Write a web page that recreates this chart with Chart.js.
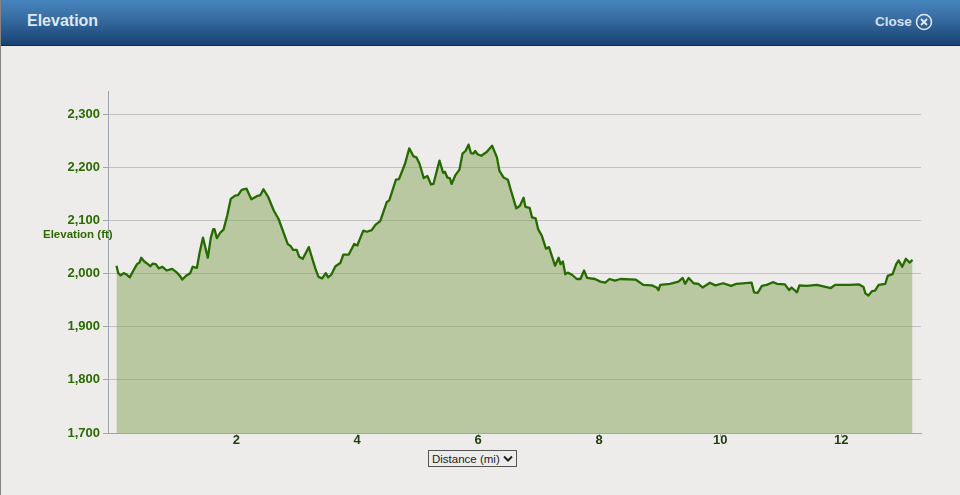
<!DOCTYPE html>
<html>
<head>
<meta charset="utf-8">
<title>Elevation</title>
<script src="https://cdn.jsdelivr.net/npm/chart.js"></script>
<style>
  html, body { margin: 0; padding: 0; width: 960px; height: 495px; overflow: hidden; background: #eeeceb; font-family: "Liberation Sans", Arial, sans-serif; }
  #edge { position: absolute; left: 0; top: 0; width: 1px; height: 495px; background: #858383; z-index: 3; }
  #head { position: absolute; left: 0; top: 0; width: 960px; height: 45px; background: linear-gradient(#4684bd, #3a70a6 35%, #174272); border-bottom: 1px solid #0d2b4a; }
  #head .title { position: absolute; left: 27px; top: 12px; font-size: 16px; font-weight: bold; color: #dfe8ef; }
  #head .close { position: absolute; left: 875px; top: 14px; font-size: 13.5px; font-weight: bold; color: #d5e0ea; }
  #head svg { position: absolute; left: 915px; top: 13px; }
  #wrap { position: absolute; left: 0; top: 0; width: 960px; height: 495px; }
  #yTitle { position: absolute; left: 43px; top: 228px; font-size: 11.5px; font-weight: bold; color: #2a6a00; white-space: nowrap; }
  #xSelect { position: absolute; left: 428px; top: 450px; width: 89px; height: 17px; font: 11.5px "Liberation Sans", Arial, sans-serif; color: #222; border: 1px solid #555; border-radius: 0; padding: 0 0 0 3px; appearance: none; -webkit-appearance: none;
    background: #eeeceb url("data:image/svg+xml,%3Csvg xmlns='http://www.w3.org/2000/svg' width='10' height='7'%3E%3Cpath d='M1 1.5 L5 5.5 L9 1.5' fill='none' stroke='%23222' stroke-width='2'/%3E%3C/svg%3E") no-repeat right 3px center; }
</style>
</head>
<body>
<div id="wrap"><canvas id="chartElev" width="960" height="495"></canvas></div>
<div id="edge"></div>
<div id="head">
  <div class="title">Elevation</div>
  <div class="close">Close</div>
  <svg width="18" height="18" viewBox="0 0 18 18" fill="none" stroke="#e4ecf2">
    <circle cx="9" cy="9" r="7.5" stroke-width="1.5"/>
    <path d="M6 6 L12 12 M12 6 L6 12" stroke-width="1.8"/>
  </svg>
</div>
<div id="yTitle">Elevation (ft)</div>
<select id="xSelect"><option>Distance (mi)</option></select>

<script>
// valores
const distance = [
  0.02,0.05,0.09,0.14,0.18,0.24,0.30,0.36,0.40,0.43,0.48,0.55,0.58,0.62,0.67,0.72,0.78,0.85,0.94,1.02,
  1.06,1.11,1.17,1.24,1.28,1.35,1.39,1.45,1.53,1.58,1.62,1.64,1.68,1.74,1.79,1.85,1.91,1.98,2.03,2.09,
  2.17,2.25,2.34,2.40,2.45,2.53,2.62,2.70,2.78,2.85,2.90,2.94,3.00,3.04,3.10,3.20,3.25,3.31,3.36,3.42,
  3.48,3.52,3.57,3.64,3.72,3.77,3.86,3.95,4.00,4.10,4.16,4.24,4.30,4.38,4.49,4.53,4.64,4.69,4.79,4.86,
  4.93,4.98,5.03,5.10,5.16,5.22,5.26,5.36,5.42,5.45,5.49,5.53,5.56,5.62,5.69,5.74,5.79,5.84,5.88,5.92,
  5.95,5.99,6.05,6.14,6.23,6.31,6.35,6.42,6.49,6.54,6.63,6.69,6.75,6.78,6.85,6.89,6.95,6.99,7.05,7.12,
  7.17,7.27,7.33,7.36,7.40,7.44,7.48,7.55,7.63,7.69,7.75,7.80,7.93,8.02,8.10,8.17,8.26,8.35,8.60,8.73,
  8.87,8.95,8.98,9.01,9.17,9.31,9.38,9.42,9.48,9.56,9.64,9.71,9.83,9.92,10.05,10.18,10.27,10.52,10.56,10.62,
  10.69,10.77,10.87,10.94,11.07,11.14,11.18,11.27,11.31,11.43,11.60,11.83,11.90,12.15,12.29,12.37,12.40,12.45,12.51,12.56,
  12.62,12.73,12.77,12.85,12.91,12.95,13.01,13.07,13.13,13.18
];
const elevation = [
  2015,2001,1997,2001,1999,1993,2006,2018,2021,2030,2023,2017,2014,2019,2018,2010,2013,2006,2009,2002,
  1997,1989,1996,2001,2013,2011,2037,2068,2030,2068,2084,2084,2067,2078,2083,2109,2141,2147,2148,2158,
  2160,2140,2146,2148,2159,2144,2119,2103,2078,2056,2052,2045,2045,2032,2028,2050,2031,2009,1994,1991,
  2001,1993,1998,2014,2020,2036,2036,2056,2053,2081,2079,2082,2092,2099,2135,2138,2177,2178,2207,2236,
  2221,2219,2207,2180,2184,2168,2169,2213,2190,2192,2181,2180,2169,2185,2196,2226,2231,2243,2227,2226,
  2231,2225,2222,2229,2241,2219,2194,2181,2177,2157,2123,2128,2143,2126,2124,2106,2104,2084,2072,2047,
  2050,2015,2030,2018,2023,1999,2002,1998,1990,1990,2006,1992,1990,1985,1983,1990,1987,1990,1989,1979,
  1978,1974,1969,1979,1981,1985,1992,1981,1992,1982,1981,1974,1983,1978,1982,1977,1981,1983,1965,1964,
  1977,1979,1984,1981,1980,1969,1974,1965,1978,1977,1979,1973,1979,1979,1980,1975,1963,1959,1967,1968,
  1979,1981,1996,1999,2018,2025,2013,2028,2021,2026
];
const yTicks = [1700, 1800, 1900, 2000, 2100, 2200, 2300];
const xTicks = [2, 4, 6, 8, 10, 12];

const TICK_GREEN = '#2a6a00';
const GRID = '#c3bfc3';
const AXIS = '#9da6ab';

new Chart(document.getElementById('chartElev').getContext('2d'), {
  type: 'line',
  data: {
    datasets: [{
      data: distance.map((d, i) => ({ x: d, y: elevation[i] })),
      borderColor: '#256b00',
      borderWidth: 2.3,
      borderJoinStyle: 'round',
      backgroundColor: 'rgba(132,164,87,.5)',
      fill: 'start',
      pointRadius: 0,
      tension: 0
    }]
  },
  options: {
    responsive: false,
    animation: false,
    layout: { padding: { top: 91, right: 39 } },
    plugins: { legend: { display: false }, tooltip: { enabled: false } },
    scales: {
      x: {
        type: 'linear',
        min: -0.12,
        max: 13.32,
        afterBuildTicks: s => { s.ticks = xTicks.map(v => ({ value: v })); },
        afterFit: s => { s.height = 62; },
        grid: { drawOnChartArea: false, color: AXIS, tickLength: 4 },
        border: { color: AXIS },
        ticks: { color: '#1f3d10', font: { family: 'Liberation Sans', size: 13, weight: 'bold' }, padding: -4, maxRotation: 0, autoSkip: false }
      },
      y: {
        min: 1700,
        max: 2344,
        afterBuildTicks: s => { s.ticks = yTicks.map(v => ({ value: v })); },
        afterFit: s => { s.width = 108; },
        grid: { color: GRID, tickColor: AXIS, tickLength: 5 },
        border: { color: AXIS },
        ticks: {
          color: TICK_GREEN,
          font: { family: 'Liberation Sans', size: 13, weight: 'bold' },
          padding: 3,
          callback: v => v.toLocaleString('en-US')
        }
      }
    }
  }
});
</script>
</body>
</html>
